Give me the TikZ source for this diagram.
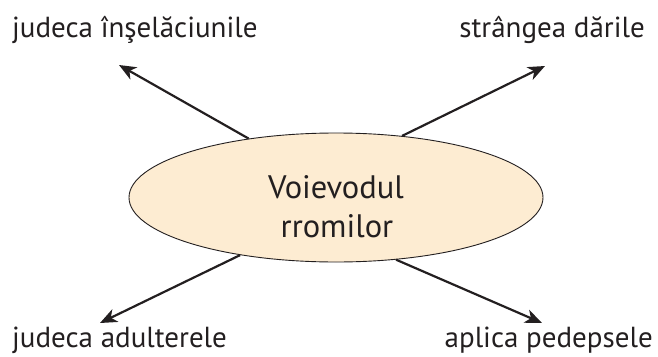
\documentclass[tikz,border=0pt]{standalone}
\usepackage{fontspec}
\setmainfont{PT Sans}
\usetikzlibrary{arrows.meta,shapes.geometric}
\definecolor{ink}{RGB}{35,31,32}
\definecolor{peach}{RGB}{253,236,210}
\begin{document}
\begin{tikzpicture}[x=1pt,y=-1pt,
  lbl/.style={inner sep=0pt,font=\fontsize{29}{29}\selectfont,text=ink},
  mid/.style={inner sep=0pt,font=\fontsize{32.5}{32.5}\selectfont,text=ink},
  arr/.style={draw=ink,line width=2.2pt,-{Stealth[length=17pt,width=14pt,inset=5pt]}},
  bubble/.style={ellipse,draw=ink,line width=0.9pt,fill=peach,minimum width=414pt,minimum height=129pt,inner sep=0pt}]
\useasboundingbox (0,0) rectangle (658,356);
\node[bubble] (e) at (336,197.5) {};
\node[mid,anchor=base] (t1) at (336,198) {Voievodul};
\node[mid,anchor=base] (t2) at (337,237) {rromilor};
\node[lbl,anchor=base west] (a) at (12,37) {judeca înşelăciunile};
\node[lbl,anchor=base east] (b) at (645,37) {strângea dările};
\node[lbl,anchor=base west] (c) at (12,347) {judeca adulterele};
\node[lbl,anchor=base east] (d) at (653,347) {aplica pedepsele};
\coordinate (pa) at (119,65);
\coordinate (pb) at (545,66);
\coordinate (pc) at (100,323);
\coordinate (pd) at (542,323);
\draw[arr] (e.146.6) -- (pa);
\draw[arr] (e.43.2) -- (pb);
\draw[arr] (e.211.9) -- (pc);
\draw[arr] (e.314.1) -- (pd);
\end{tikzpicture}
\end{document}
